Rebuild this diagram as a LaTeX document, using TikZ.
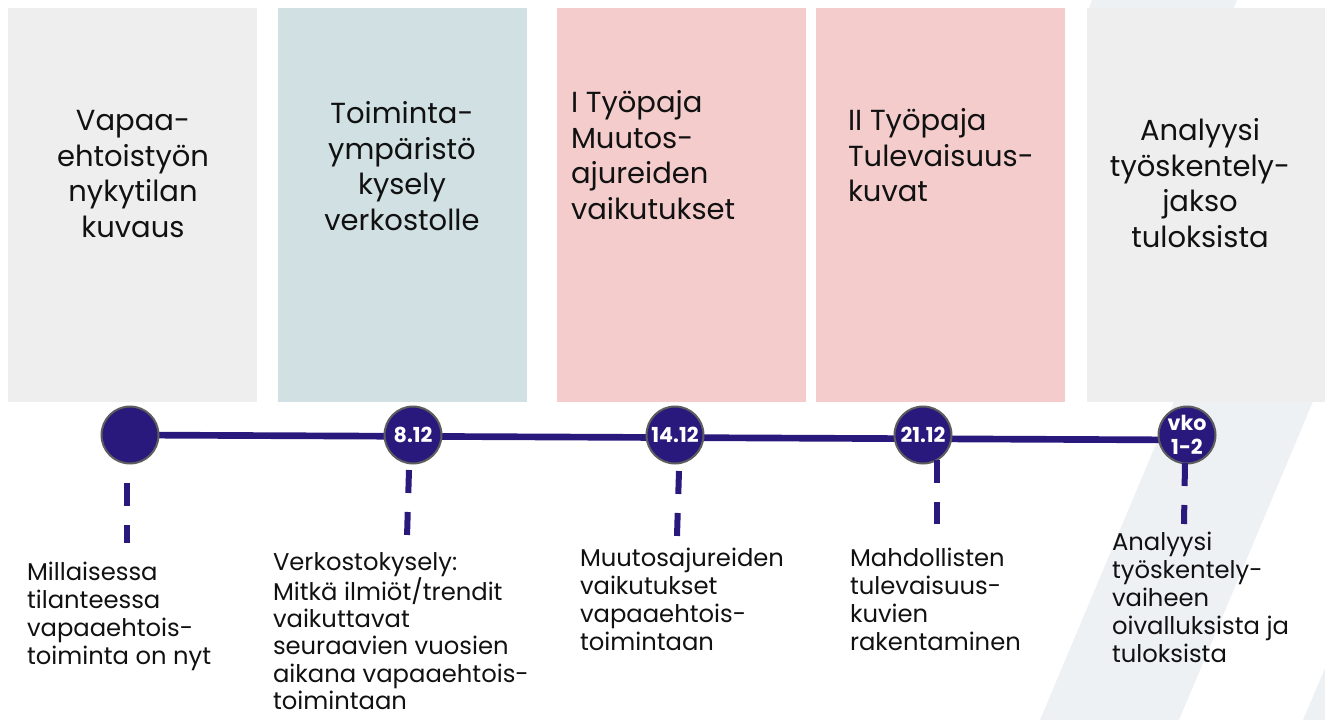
\documentclass[tikz,border=0pt]{standalone}
\usepackage{fontspec}
\setmainfont{Poppins}
\usetikzlibrary{backgrounds}
\definecolor{pgrey}{HTML}{EEEEEE}
\definecolor{pblue}{HTML}{D0E0E3}
\definecolor{ppink}{HTML}{F4CCCC}
\definecolor{stripe}{HTML}{EEF1F4}
\definecolor{navy}{RGB}{42,25,124}
\definecolor{ring}{HTML}{5E5E5E}
\definecolor{txt}{HTML}{111111}
\newcommand\TopC[1]{\parbox[t]{200pt}{\centering\fontsize{21.75pt}{26.6pt}\selectfont #1}}
\newcommand\TopL[1]{\parbox[t]{200pt}{\raggedright\fontsize{21.75pt}{26.6pt}\selectfont #1}}
\newcommand\BotL[2][21pt]{\parbox[t]{200pt}{\raggedright\fontsize{18.2pt}{#1}\selectfont #2}}
\begin{document}
\begin{tikzpicture}[x=0.75pt,y=-0.75pt,
  dot/.style={circle, fill=navy, draw=ring, line width=1.5pt, minimum size=42.75pt,
    inner sep=0pt, text=white, align=center, font=\fontsize{15.5pt}{18pt}\selectfont\bfseries},
  timeline/.style={navy, line width=5pt},
  dropline/.style={navy, line width=4.5pt, dash pattern=on 17.25pt off 14.25pt},
  label/.style={inner sep=0pt, outer sep=0pt, text=txt}]
\useasboundingbox (0,0) rectangle (1325,720);

% timeline dates
\node[dot] (c1) at (130,435) {};
\node[dot] (c2) at (413,435) {8.12};
\node[dot] (c3) at (675,435) {14.12};
\node[dot] (c4) at (923,435) {21.12};
\node[dot] (c5) at (1187,435) {vko\\1-2};
\coordinate (lineend) at (1187,440);

\begin{scope}[on background layer]
  % faint diagonal stripes
  \fill[stripe] (1040,720) -- (1179,720) -- (1325,373) -- (1325,42) -- cycle;
  \fill[stripe] (1092,0) -- (1237,0) -- (1234,8) -- (1089,8) -- cycle;
  \fill[stripe] (1303,720) -- (1325,668) -- (1325,720) -- cycle;
  % panels
  \fill[pgrey] (8,8) rectangle (257,402);
  \fill[pblue] (278,8) rectangle (527,402);
  \fill[ppink] (557,8) rectangle (806,402);
  \fill[ppink] (816,8) rectangle (1065,402);
  \fill[pgrey] (1087,8) rectangle (1325,402);
  % main line
  \draw[timeline] (c1.center) -- (lineend);
\end{scope}

% dashed drop lines
\coordinate (d1a) at (127,483);  \coordinate (d1b) at (127,543);
\coordinate (d2a) at (409,470);  \coordinate (d2b) at (407,537);
\coordinate (d3a) at (679,471);  \coordinate (d3b) at (677,536);
\coordinate (d4a) at (937,460);  \coordinate (d4b) at (937,524);
\coordinate (d5a) at (1185,463); \coordinate (d5b) at (1184,524);
\draw[dropline] (d1a) -- (d1b);
\draw[dropline] (d2a) -- (d2b);
\draw[dropline] (d3a) -- (d3b);
\draw[dropline] (d4a) -- (d4b);
\draw[dropline] (d5a) -- (d5b);

% panel titles
\node[label, anchor=base] (h1) at (133,131) {\TopC{Vapaa-\\ehtoistyön\\nykytilan\\kuvaus}};
\node[label, anchor=base] (h2) at (402,124) {\TopC{Toiminta-\\ympäristö\\kysely\\verkostolle}};
\node[label, anchor=base west] (h3) at (571,113) {\TopL{I Työpaja\\Muutos-\\ajureiden\\vaikutukset}};
\node[label, anchor=base west] (h4) at (848,131) {\TopL{II Työpaja\\Tulevaisuus-\\kuvat}};
\node[label, anchor=base] (h5) at (1200,141) {\TopC{Analyysi\\työskentely-\\jakso\\tuloksista}};

% descriptions
\node[label, anchor=base west] (t1) at (27,580) {\BotL{Millaisessa\\tilanteessa\\vapaaehtois-\\toiminta on nyt}};
\node[label, anchor=base west] (t2) at (273,570) {\BotL[20.4pt]{Verkostokysely:\\Mitkä ilmiöt/trendit\\vaikuttavat\\seuraavien vuosien\\aikana vapaaehtois-\\toimintaan}};
\node[label, anchor=base west] (t3) at (580,566) {\BotL{Muutosajureiden\\vaikutukset\\vapaaehtois-\\toimintaan}};
\node[label, anchor=base west] (t4) at (850,566) {\BotL{Mahdollisten\\tulevaisuus-\\kuvien\\rakentaminen}};
\node[label, anchor=base west] (t5) at (1112,550) {\BotL{Analyysi\\työskentely-\\vaiheen\\oivalluksista ja\\tuloksista}};
\end{tikzpicture}
\end{document}
